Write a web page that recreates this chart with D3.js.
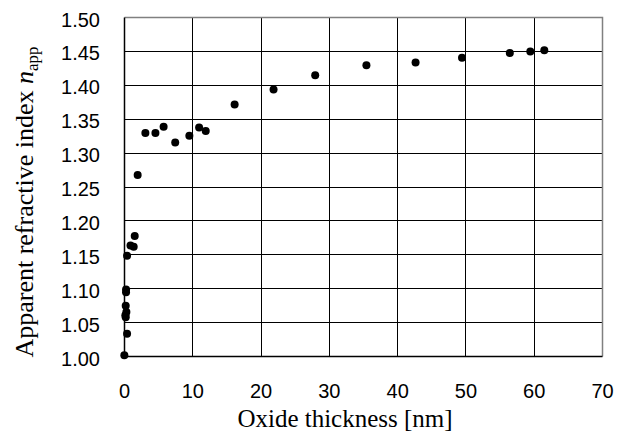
<!DOCTYPE html>
<html>
<head>
<meta charset="utf-8">
<script src="https://cdn.jsdelivr.net/npm/d3@7"></script>
<style>
  html, body { margin: 0; padding: 0; background: #fff; }
</style>
</head>
<body>
<div id="chart"></div>
<script>
// oxide thickness [nm] and apparent refractive index
const thickness = [
  0.05, 0.45, 0.25, 0.2, 0.35, 0.25, 0.3, 0.3, 0.45, 0.95, 1.42, 1.57, 2.0,
  3.13, 4.6, 5.8, 7.5, 9.57, 11.0, 11.97, 16.2, 21.9, 28.0, 35.5, 42.7,
  49.5, 56.5, 59.5, 61.55
];
const nApp = [
  1.001, 1.033, 1.057, 1.060, 1.065, 1.074, 1.094, 1.098, 1.148, 1.163, 1.161, 1.177, 1.267,
  1.329, 1.329, 1.338, 1.315, 1.325, 1.337, 1.332, 1.371, 1.393, 1.414, 1.429, 1.433,
  1.440, 1.447, 1.449, 1.451
];
const xTicks = [0, 10, 20, 30, 40, 50, 60, 70];
const yTicks = [1.00, 1.05, 1.10, 1.15, 1.20, 1.25, 1.30, 1.35, 1.40, 1.45, 1.50];

const width = 625;
const height = 437;
const margin = { top: 17, right: 23, bottom: 81, left: 124 };

const svg = d3.select("#chart")
  .append("svg")
  .attr("width", width)
  .attr("height", height);

const x = d3.scaleLinear()
  .domain([0, 70])
  .range([margin.left, width - margin.right]);
const y = d3.scaleLinear()
  .domain([1.0, 1.5])
  .range([height - margin.bottom, margin.top]);

// gridlines
svg.append("g")
  .selectAll("line")
  .data(yTicks.slice(1, -1))
  .join("line")
  .attr("x1", x(0))
  .attr("x2", x(70))
  .attr("y1", d => Math.round(y(d)) + 0.5)
  .attr("y2", d => Math.round(y(d)) + 0.5)
  .attr("stroke", "#000")
  .attr("stroke-width", 1);

svg.append("g")
  .selectAll("line")
  .data(xTicks.slice(1, -1))
  .join("line")
  .attr("x1", d => Math.round(x(d)) + 0.5)
  .attr("x2", d => Math.round(x(d)) + 0.5)
  .attr("y1", y(1.5))
  .attr("y2", y(1.0))
  .attr("stroke", "#000")
  .attr("stroke-width", 1);

// plot frame: top/right grey, left/bottom black
const x0 = Math.round(x(0)) + 0.5, x1 = Math.round(x(70)) + 0.5;
const yTop = Math.round(y(1.5)) + 0.5, yBot = Math.round(y(1.0)) + 0.5;
svg.append("path")
  .attr("d", `M${x0},${yTop}H${x1}V${yBot}`)
  .attr("fill", "none")
  .attr("stroke", "#808080")
  .attr("stroke-width", 1.5);
svg.append("path")
  .attr("d", `M${x0},${yTop}V${yBot}H${x1}`)
  .attr("fill", "none")
  .attr("stroke", "#000")
  .attr("stroke-width", 1.5);

// tick labels
const yAxis = d3.axisLeft(y)
  .tickValues(yTicks)
  .tickFormat(d3.format(".2f"))
  .tickSize(0)
  .tickPadding(24);
svg.append("g")
  .attr("transform", `translate(${x(0)},0)`)
  .call(yAxis)
  .call(g => g.select(".domain").remove())
  .selectAll("text")
  .attr("dy", "0.45em")
  .attr("font-family", "'Liberation Sans', Arial, sans-serif")
  .attr("font-size", "20px")
  .attr("fill", "#000");

const xAxis = d3.axisBottom(x)
  .tickValues(xTicks)
  .tickFormat(d3.format("d"))
  .tickSize(0)
  .tickPadding(28);
svg.append("g")
  .attr("transform", `translate(0,${y(1.0)})`)
  .call(xAxis)
  .call(g => g.select(".domain").remove())
  .selectAll("text")
  .attr("font-family", "'Liberation Sans', Arial, sans-serif")
  .attr("font-size", "20px")
  .attr("fill", "#000");

// points
svg.append("g")
  .selectAll("circle")
  .data(thickness.map((t, i) => [t, nApp[i]]))
  .join("circle")
  .attr("cx", d => x(d[0]))
  .attr("cy", d => y(d[1]))
  .attr("r", 4)
  .attr("fill", "#000");

// axis titles
svg.append("text")
  .attr("x", 345)
  .attr("y", 427)
  .attr("text-anchor", "middle")
  .attr("font-family", "'Liberation Serif', 'Times New Roman', serif")
  .attr("font-size", "25px")
  .attr("fill", "#000")
  .text("Oxide thickness [nm]");

const yTitle = svg.append("text")
  .attr("transform", "translate(33,202) rotate(-90)")
  .attr("text-anchor", "middle")
  .attr("font-family", "'Liberation Serif', 'Times New Roman', serif")
  .attr("font-size", "26px")
  .attr("fill", "#000");
yTitle.append("tspan").text("Apparent refractive index ");
yTitle.append("tspan").attr("font-style", "italic").text("n");
yTitle.append("tspan").attr("font-size", "17px").attr("dy", 5).text("app");
</script>
</body>
</html>
